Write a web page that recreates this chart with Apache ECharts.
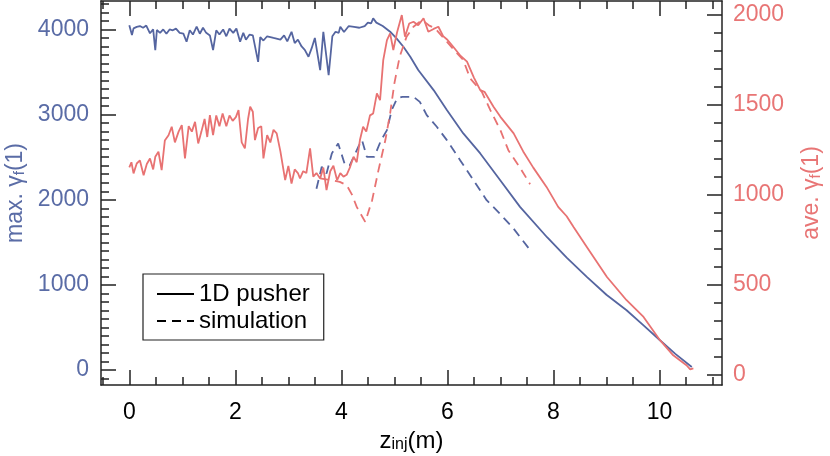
<!DOCTYPE html>
<html>
<head>
<meta charset="utf-8">
<script src="https://cdn.jsdelivr.net/npm/echarts@6/dist/echarts.min.js"></script>
<style>
html,body{margin:0;padding:0;background:#fff;}
#chart{width:830px;height:456px;}
</style>
</head>
<body>
<div id="chart"></div>
<script>
// ---- data (x in m, values) ----
var pusherMax = [
[0.00,4050],[0.05,3935],[0.08,4013],[0.14,4030],[0.20,4040],[0.26,4020],[0.32,4045],[0.39,3955],
[0.45,4000],[0.49,3758],[0.52,3993],[0.58,3960],[0.64,4000],[0.70,3950],[0.76,4000],[0.82,3990],
[0.88,4010],[0.95,3960],[1.02,3950],[1.08,3855],[1.14,3990],[1.20,3940],[1.27,4032],[1.33,3950],
[1.39,4020],[1.45,3960],[1.52,3930],[1.58,3758],[1.64,3990],[1.70,3940],[1.77,4000],[1.83,3920],
[1.89,4010],[1.96,3960],[2.02,4010],[2.09,3855],[2.15,3960],[2.20,3880],[2.27,3940],[2.33,3930],
[2.43,3620],[2.47,3910],[2.53,3870],[2.60,3920],[2.72,3900],[2.85,3880],[2.92,3930],[2.98,3860],
[3.06,3973],[3.12,3840],[3.18,3880],[3.25,3800],[3.31,3760],[3.38,3679],[3.44,3780],[3.50,3900],
[3.60,3523],[3.66,3973],[3.76,3464],[3.83,3920],[3.89,3973],[3.95,3960],[3.98,4032],[4.05,3970],
[4.14,4040],[4.24,4030],[4.34,4020],[4.44,4040],[4.50,4080],[4.56,4070],[4.60,4130],[4.66,4080],
[4.78,4040],[4.92,3973],[5.04,3895],[5.17,3797],[5.30,3679],[5.45,3523],[5.74,3288],[5.99,3053],
[6.30,2779],[6.62,2544],[7.00,2227],[7.37,1917],[7.88,1560],[8.25,1320],[8.63,1094],[9.00,885],
[9.38,703],[9.70,525],[10.01,350],[10.30,190],[10.61,36]
];
var pusherAve = [
[0.00,1151],[0.04,1180],[0.08,1118],[0.14,1173],[0.20,1190],[0.27,1108],[0.33,1170],[0.39,1201],
[0.45,1140],[0.49,1210],[0.55,1238],[0.61,1136],[0.67,1300],[0.74,1330],[0.80,1377],[0.86,1290],
[0.93,1350],[0.99,1386],[1.05,1201],[1.12,1380],[1.18,1350],[1.24,1404],[1.30,1284],[1.36,1350],
[1.42,1420],[1.47,1320],[1.52,1442],[1.58,1330],[1.64,1440],[1.70,1380],[1.76,1450],[1.83,1380],
[1.89,1440],[1.95,1410],[2.01,1430],[2.06,1469],[2.12,1290],[2.18,1257],[2.24,1420],[2.28,1488],
[2.33,1460],[2.37,1303],[2.43,1370],[2.49,1380],[2.53,1201],[2.60,1330],[2.66,1290],[2.72,1360],
[2.78,1340],[2.85,1240],[2.94,1081],[3.00,1160],[3.06,1062],[3.12,1140],[3.18,1120],[3.22,1090],
[3.28,1130],[3.34,1120],[3.41,1257],[3.47,1100],[3.53,1120],[3.60,1090],[3.66,1150],[3.72,1025],
[3.79,1130],[3.85,1160],[3.92,1080],[3.98,1120],[4.04,1100],[4.10,1110],[4.16,1150],[4.23,1210],
[4.29,1180],[4.35,1303],[4.41,1377],[4.47,1350],[4.54,1440],[4.60,1451],[4.67,1562],[4.73,1525],
[4.79,1747],[4.86,1858],[4.92,1895],[4.98,1803],[5.05,1900],[5.14,1997],[5.20,1877],[5.28,1950],
[5.36,1960],[5.45,1940],[5.55,1979],[5.64,1904],[5.74,1920],[5.83,1932],[5.92,1880],[6.00,1860],
[6.11,1821],[6.25,1770],[6.37,1738],[6.50,1650],[6.62,1580],[6.70,1571],[6.87,1488],[7.00,1432],
[7.25,1340],[7.43,1240],[7.62,1150],[7.87,1043],[8.09,932],[8.25,880],[8.38,821],[8.63,710],
[9.01,543],[9.38,414],[9.70,321],[10.01,192],[10.26,108],[10.51,53],[10.58,30],[10.64,35]
];
var simMax = [
[3.53,2129],[3.63,2387],[3.72,2309],[3.82,2544],[3.94,2661],[4.07,2406],[4.16,2406],[4.32,2622],
[4.39,2700],[4.48,2504],[4.62,2504],[4.75,2700],[4.86,2818],[4.95,3053],[5.05,3190],[5.15,3209],
[5.36,3209],[5.48,3150],[5.61,2994],[5.80,2857],[5.99,2700],[6.24,2465],[6.49,2230],[6.74,1995],
[7.00,1830],[7.25,1660],[7.55,1417]
];
var simAve = [
[3.60,1090],[3.80,1080],[3.97,1071],[4.10,1053],[4.20,1000],[4.29,932],[4.45,849],[4.58,969],
[4.70,1136],[4.83,1303],[4.92,1451],[5.00,1618],[5.10,1766],[5.23,1877],[5.36,1932],[5.52,1969],
[5.65,1940],[5.77,1923],[5.99,1849],[6.10,1812],[6.30,1747],[6.43,1645],[6.65,1571],[6.81,1469],
[7.00,1358],[7.15,1247],[7.37,1150],[7.56,1058]
];
var xMajorTicks = [0,2,4,6,8,10];
var xMinorTicks = [-0.5,0.5,1,1.5,2.5,3,3.5,4.5,5,5.5,6.5,7,7.5,8.5,9,9.5,10.5,11];
var leftMajorTicks = [0,1000,2000,3000,4000];
var leftMinorTicks = [-100,100,200,300,400,500,600,700,800,900,1100,1200,1300,1400,1500,1600,1700,1800,1900,
  2100,2200,2300,2400,2500,2600,2700,2800,2900,3100,3200,3300,3400,3500,3600,3700,3800,3900,4100,4200,4300];
var rightMajorTicks = [0,500,1000,1500,2000];
var rightMinorTicks = [100,200,300,400,600,700,800,900,1100,1200,1300,1400,1600,1700,1800,1900];
var legendNames = ['1D pusher','simulation'];

// ---- styles ----
var BLUE = '#5565a0', RED = '#e87272', LBLUE = '#5a6ca6', LRED = '#e87575', AX = '#222';
var FONT = 'Liberation Sans';
var FS = 23;
var X_MIN = -0.534, X_MAX = 11.18, L_MIN = -175, L_MAX = 4334, R_MIN = -56.7, R_MAX = 2075;

function plain(v) { return String(v); }

function tickAxis(base, values, len, showLine) {
  return Object.assign({
    type: 'value', gridIndex: 0,
    axisLine: {show: !!showLine, onZero: false, lineStyle: {color: AX, width: 1.5}},
    axisTick: {show: true, inside: true, length: len, customValues: values, lineStyle: {color: AX, width: 1.5}},
    axisLabel: {show: false},
    splitLine: {show: false}
  }, base);
}

var xAxes = [
  Object.assign(tickAxis({min: X_MIN, max: X_MAX, position: 'bottom'}, xMajorTicks, 15, true), {
    axisLabel: {show: true, customValues: xMajorTicks, formatter: plain, fontFamily: FONT, fontSize: FS, color: '#000', margin: 16},
    name: '{a|z}{s|inj}{a|(m)}', nameLocation: 'middle', nameGap: 38,
    nameTextStyle: {rich: {
      a: {fontFamily: FONT, fontSize: 24, color: '#000', lineHeight: 27, verticalAlign: 'bottom'},
      s: {fontFamily: FONT, fontSize: 16, color: '#000', lineHeight: 15, verticalAlign: 'bottom'}
    }}
  }),
  tickAxis({min: X_MIN, max: X_MAX, position: 'bottom'}, xMinorTicks, 8, false),
  tickAxis({min: X_MIN, max: X_MAX, position: 'top'}, xMajorTicks, 15, true),
  tickAxis({min: X_MIN, max: X_MAX, position: 'top'}, xMinorTicks, 8, false)
];

function yName(prefix, color) {
  return {
    name: '{a|' + prefix + ' γ}{s|f}{a|(1)}', nameLocation: 'middle', nameRotate: 90,
    nameTextStyle: {rich: {
      a: {fontFamily: FONT, fontSize: FS, color: color, lineHeight: 26, verticalAlign: 'bottom'},
      s: {fontFamily: FONT, fontSize: 15, color: color, lineHeight: 15, verticalAlign: 'bottom'}
    }}
  };
}

var yAxes = [
  Object.assign(tickAxis({min: L_MIN, max: L_MAX, position: 'left'}, leftMajorTicks, 15, true), {
    axisLabel: {show: true, customValues: leftMajorTicks, formatter: plain, fontFamily: FONT, fontSize: FS, color: LBLUE, margin: 12}
  }, yName('max.', LBLUE), {nameGap: 73}),
  Object.assign(tickAxis({min: R_MIN, max: R_MAX, position: 'right'}, rightMajorTicks, 15, true), {
    axisLabel: {show: true, customValues: rightMajorTicks, formatter: plain, fontFamily: FONT, fontSize: FS, color: LRED, margin: 11}
  }, yName('ave.', LRED), {nameGap: 75}),
  tickAxis({min: L_MIN, max: L_MAX, position: 'left'}, leftMinorTicks, 8, false),
  tickAxis({min: R_MIN, max: R_MAX, position: 'right'}, rightMinorTicks, 8, false)
];

function lineSeries(name, data, yIdx, color, dashed) {
  return {
    name: name, type: 'line', data: data, xAxisIndex: 0, yAxisIndex: yIdx,
    symbol: 'none', symbolSize: 0, showSymbol: false, silent: true, animation: false,
    lineStyle: {color: color, width: 1.8, type: dashed ? [9, 6] : 'solid'},
    itemStyle: {color: color}
  };
}

var chart = echarts.init(document.getElementById('chart'), null, {renderer: 'canvas'});
chart.setOption({
  animation: false,
  backgroundColor: '#fff',
  grid: {left: 101, right: 108, top: 1, bottom: 71, containLabel: false, outerBoundsMode: 'none'},
  xAxis: xAxes,
  yAxis: yAxes,
  legend: {
    data: legendNames, orient: 'vertical', left: 143, top: 274,
    borderColor: '#222', borderWidth: 1.2, borderRadius: 0,
    padding: [8, 14, 7, 13], itemGap: 3, itemWidth: 37, itemHeight: 14,
    itemStyle: {opacity: 0},
    textStyle: {fontFamily: FONT, fontSize: 24, lineHeight: 22, color: '#000', padding: [0, 0, 0, 0]},
    selectedMode: false
  },
  series: [
    lineSeries('pusherMax', pusherMax, 0, BLUE, false),
    lineSeries('simMax', simMax, 0, BLUE, true),
    lineSeries('pusherAve', pusherAve, 1, RED, false),
    lineSeries('simAve', simAve, 1, RED, true),
    lineSeries(legendNames[0], [], 0, '#000', false),
    lineSeries(legendNames[1], [], 0, '#000', true)
  ]
});
</script>
</body>
</html>
